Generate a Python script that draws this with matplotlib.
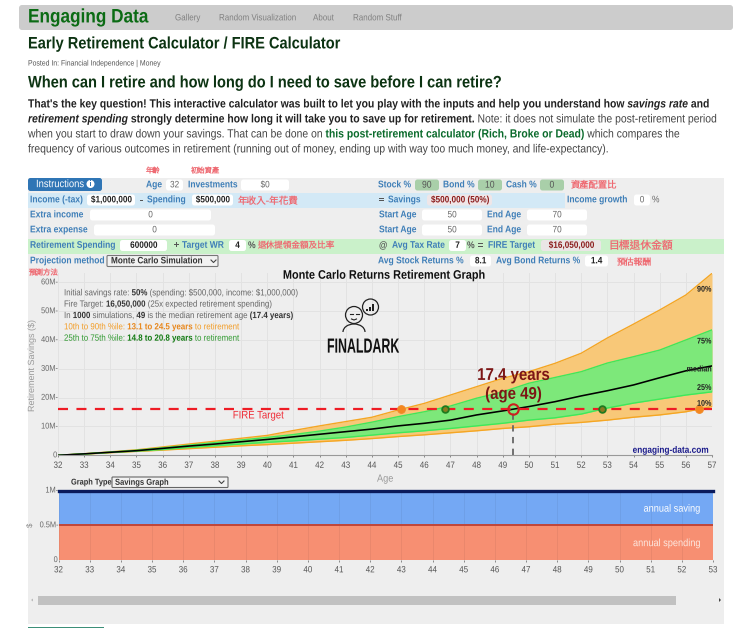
import matplotlib
matplotlib.use('Agg')
import matplotlib.pyplot as plt
from matplotlib.patches import FancyBboxPatch, Rectangle, Circle, Arc, Polygon
from matplotlib.patheffects import AbstractPathEffect
from matplotlib.transforms import Affine2D
from matplotlib.font_manager import FontProperties
from matplotlib.textpath import text_to_path

plt.rcParams['text.hinting'] = 'no_hinting'
plt.rcParams['text.hinting_factor'] = 1

# ---------------- data ----------------
ages = list(range(32, 58))
p10 = [0, 0.4, 0.9, 1.35, 1.8, 2.3, 2.8, 3.3, 3.7, 4.2, 4.7, 5.2, 5.8, 6.5, 7.1, 7.8, 8.5, 9.3, 9.9, 10.8, 11.4, 12.2, 13.2, 14.0, 15.1, 16.9]
p25 = [0, 0.45, 1.0, 1.45, 2.0, 2.7, 3.3, 3.9, 4.5, 5.0, 5.6, 6.2, 7.0, 7.8, 8.5, 9.3, 10.2, 11.1, 12.2, 13.0, 14.3, 16.4, 18.1, 19.5, 20.9, 22.0]
median = [0, 0.5, 1.05, 1.6, 2.4, 3.2, 3.9, 4.7, 5.5, 6.4, 7.3, 8.2, 9.1, 10.2, 11.1, 12.2, 14.0, 15.4, 16.9, 18.6, 20.6, 22.4, 24.4, 26.9, 29.3, 31.0]
p75 = [0, 0.5, 1.1, 1.75, 2.6, 3.5, 4.4, 5.3, 6.2, 7.2, 8.4, 9.8, 11.5, 13.4, 15.1, 17.1, 19.8, 22.0, 25.0, 27.0, 29.0, 32.0, 34.2, 36.5, 40.0, 43.5]
p90 = [0, 0.55, 1.2, 1.9, 2.9, 3.9, 4.9, 5.9, 6.9, 8.6, 10.2, 11.7, 13.2, 15.7, 18.0, 20.9, 23.8, 26.7, 29.0, 31.9, 35.4, 40.7, 45.5, 50.4, 55.6, 63.1]
fire_target = 16.05
reach_orange = [45.1, 56.5]
reach_green = [46.8, 52.8]
reach_median = 49.4
ytick_vals = [0, 10, 20, 30, 40, 50, 60]
ytick_text = ['0', '10M', '20M', '30M', '40M', '50M', '60M']
pct_labels = ['90%', '75%', 'median', '25%', '10%']
pct_label_vals = [57.5, 39.5, 29.8, 23.4, 17.9]

ages2 = list(range(32, 54))
spending = [0.5] * 22
income = [1.0] * 22
ytick2_vals = [0, 0.5, 1]
ytick2_text = ['0', '0.5M', '1M']

# ---------------- page ----------------
W, H = 740, 628
LAT = ['Liberation Sans', 'Noto Sans CJK TC', 'DejaVu Sans']
CJK = ['Noto Sans CJK TC', 'Liberation Sans']
BLUE = '#3f7fb8'
RED = '#ee6a72'
DRED = '#8b1a1a'
SY = 1.136

fig = plt.figure(figsize=(W / 100, H / 100), dpi=100, facecolor='white')


def full(z):
    a = fig.add_axes([0, 0, 1, 1], zorder=z)
    a.set_xlim(0, W)
    a.set_ylim(H, 0)
    a.axis('off')
    a.patch.set_alpha(0)
    return a


bg = full(0)
fg = full(5)


class Stretch(AbstractPathEffect):
    def __init__(self, sy, cy):
        super().__init__()
        self.sy, self.cy = sy, cy

    def draw_path(self, renderer, gc, tpath, affine, rgbFace=None):
        a = affine + Affine2D().translate(0, -self.cy).scale(1, self.sy).translate(0, self.cy)
        renderer.draw_path(gc, tpath, a, rgbFace)


def box(x0, x1, y0, y1, fc='white', ec='none', r=2.5, ax=None, lw=0.8):
    (ax or bg).add_patch(FancyBboxPatch((x0 + r, y0 + r), x1 - x0 - 2 * r, y1 - y0 - 2 * r,
                                        boxstyle=f'round,pad={r},rounding_size={r}', fc=fc, ec=ec, lw=lw))


def px(size):
    return size / 1.389


def T(x, y, s, size=8.5, color=BLUE, weight='bold', ha='left', family=LAT, style='normal', stretch=None, **kw):
    rotated = 'rotation' in kw
    sy = 1.0 if (family is CJK or rotated) else (stretch or SY)
    t = fg.text(x, y, s, fontsize=px(size), color=color, fontweight=weight, ha=ha, va='center',
                family=family, fontstyle=style, parse_math=False, **kw)
    if sy != 1.0:
        t.set_path_effects([Stretch(sy, H - y)])
    return t


def width(s, size, weight, style, family):
    fp = FontProperties(family=family, size=px(size), weight=weight, style=style)
    a = text_to_path.get_text_width_height_descent('|' + s + '|', fp, False)[0]
    b = text_to_path.get_text_width_height_descent('||', fp, False)[0]
    return (a - b) * 100 / 72


def run(x, y, segs, size, family=LAT):
    for s, color, weight, style in segs:
        T(x, y, s, size, color, weight, style=style)
        x += width(s, size, weight, style, family)


# nav
box(19, 733, 5, 30, fc='#cccccc', r=3)
T(28, 17.5, 'Engaging Data', 17.2, '#0b6b14')
for x, s in [(175, 'Gallery'), (219, 'Random Visualization'), (313, 'About'), (353, 'Random Stuff')]:
    T(x, 18, s, 8.0, '#808080', 'normal')
T(28, 44, 'Early Retirement Calculator / FIRE Calculator', 14.6, '#0c3312')
T(28, 63.5, 'Posted In: Financial Independence | Money', 6.9, '#555555', 'normal')
T(28, 83, 'When can I retire and how long do I need to save before I can retire?', 14.6, '#0c3312')

DK = '#222222'
GR = '#444444'
G2 = '#0b6b2c'
PS = 10.4
run(28, 104.5, [("That's the key question! This interactive calculator was built to let you play with the inputs and help you understand how ", DK, 'bold', 'normal'),
                ('savings rate', DK, 'bold', 'italic'), (' and', DK, 'bold', 'normal')], PS)
run(28, 119.5, [('retirement spending', DK, 'bold', 'italic'),
                (' strongly determine how long it will take you to save up for retirement.', DK, 'bold', 'normal'),
                (' Note: it does not simulate the post-retirement period', GR, 'normal', 'normal')], PS)
run(28, 134.5, [('when you start to draw down your savings. That can be done on ', GR, 'normal', 'normal'),
                ('this post-retirement calculator (Rich, Broke or Dead)', G2, 'bold', 'normal'),
                (' which compares the', GR, 'normal', 'normal')], PS)
run(28, 149.5, [('frequency of various outcomes in retirement (running out of money, ending up with way too much money, and life-expectancy).', GR, 'normal', 'normal')], PS)

# panel and rows
bg.add_patch(Rectangle((28, 177.5), 696, 446, fc='#eeeeee', ec='none'))
bg.add_patch(Rectangle((28, 193), 537, 14.5, fc='#d3e9f6', ec='none'))
bg.add_patch(Rectangle((28, 238.5), 696, 15.5, fc='#caf1ca', ec='none'))
box(28, 102, 178, 191, fc='#2f75b5', r=2.5)
T(36, 184.5, 'Instructions', 9.4, 'white', 'normal')
bg.add_patch(Circle((90.5, 184), 4, fc='white', ec='none'))
T(90.5, 184, 'i', 7.5, '#2f75b5', 'bold', ha='center')

inputs = [(166, 183, 185, '32'), (241, 289, 185, '$0'), (87, 135, 200, '$1,000,000'), (192, 233, 200, '$500,000'),
          (634, 650, 200, '0'), (90, 211, 215, '0'), (94, 215, 230, '0'), (422, 482, 215, '50'), (527, 587, 215, '70'),
          (422, 482, 230, '50'), (527, 587, 230, '70'), (120, 167, 245.5, '600000'), (229, 246, 245.5, '4'),
          (449, 466, 245.5, '7'), (470, 491, 261, '8.1'), (585, 608, 261, '1.4')]
for x0, x1, y, s in inputs:
    box(x0, x1, y - 5.5, y + 5.5)
    dark = s in ('$1,000,000', '$500,000', '600000', '4', '7', '8.1', '1.4')
    T((x0 + x1) / 2, y, s, 8.2, '#222222' if dark else '#666666', 'bold' if dark else 'normal', ha='center')
for x0, x1, s in [(415, 439, '90'), (478, 502, '10'), (540, 564, '0')]:
    box(x0, x1, 179.5, 190.5, fc='#a9cfa9')
    T((x0 + x1) / 2, 185, s, 8.6, '#555555', 'normal', ha='center')
box(427, 492, 194.5, 205.5, fc='#efe6e8')
T(459.5, 200, '$500,000 (50%)', 8.2, DRED, ha='center')
box(541, 601, 240, 251, fc='#eae6e6')
T(571, 245.5, '$16,050,000', 8.2, DRED, ha='center')

labels = [(146, 185, 'Age'), (188, 185, 'Investments'), (378, 185, 'Stock %'), (443, 185, 'Bond %'), (506, 185, 'Cash %'),
          (30, 200, 'Income (-tax)'), (147, 200, 'Spending'), (388, 200, 'Savings'), (567, 200, 'Income growth'),
          (30, 215, 'Extra income'), (379, 215, 'Start Age'), (487, 215, 'End Age'),
          (30, 230, 'Extra expense'), (379, 230, 'Start Age'), (487, 230, 'End Age'),
          (30, 245.5, 'Retirement Spending'), (182, 245.5, 'Target WR'), (392, 245.5, 'Avg Tax Rate'), (488, 245.5, 'FIRE Target'),
          (30, 261, 'Projection method'), (378, 261, 'Avg Stock Returns %'), (496, 261, 'Avg Bond Returns %')]
for x, y, s in labels:
    T(x, y, s)
for x, y, s in [(140, 200, '-'), (379, 200, '='), (174, 245, '+'), (248, 245.5, '%'), (379, 245.5, '@'), (467, 245.5, '%'), (478, 245.5, '=')]:
    T(x, y, s, 8.6, '#555555')
T(652, 200, '%', 8.4, '#666666', 'normal')

annots = [(146, 171, '年齡', 7.3), (190, 171, '初始資產', 7.3), (238, 201.5, '年收入-年花費', 9.6), (571, 185, '資產配置比', 9.3),
          (257, 245.5, '退休提領金額及比率', 8.6), (608, 245.5, '目標退休金額', 10.8), (617, 263, '預估報酬', 8.8), (29, 273.5, '預測方法', 7.5)]
for x, y, s, sz in annots:
    T(x, y, s, sz, RED, 'normal', family=CJK)

box(107, 218, 255.5, 266.5, fc='#f2f2f2', ec='#777777', r=1)
T(111, 261, 'Monte Carlo Simulation', 8.2, '#333333')
fg.plot([211, 213.5, 216], [260, 262.5, 260], color='#444444', lw=0.8)

box(112, 228, 477, 487.5, fc='#f2f2f2', ec='#666666', r=0.8)
T(71, 482.5, 'Graph Type', 7.4, '#333333')
T(115, 482.5, 'Savings Graph', 7.6, '#333333')
fg.plot([219, 221.5, 224], [481, 483.5, 481], color='#444444', lw=0.8)

# ---------------- main chart ----------------
ax_l, ax_r, ax_b, ax_t = 58, 712, 455.3, 273
main = fig.add_axes([ax_l / W, 1 - ax_b / H, (ax_r - ax_l) / W, (ax_b - ax_t) / H], zorder=2)
main.patch.set_alpha(0)
main.set_xlim(32, 57)
main.set_ylim(0, (ax_b - ax_t) / 2.883)
main.grid(True, color='#e2e2e2', lw=0.7)
main.set_axisbelow(True)
main.fill_between(ages, p10, p90, color='#f8c878', lw=0)
main.fill_between(ages, p25, p75, color='#7de87a', lw=0)
main.plot(ages, p10, color='#f5a623', lw=1)
main.plot(ages, p90, color='#f5a623', lw=1)
main.plot(ages, p25, color='#3fe85a', lw=1)
main.plot(ages, p75, color='#3fe85a', lw=1)
main.plot(ages, median, color='black', lw=1.15)
main.plot([32, 57], [fire_target, fire_target], color='#ee1c25', lw=1.6, dashes=(4.5, 3.8))
main.plot([reach_median, reach_median], [0, fire_target], color='#666666', lw=1.3, dashes=(3.5, 3))
main.plot(reach_orange, [fire_target] * 2, 'o', ms=5.5, mfc='#f5871f', mec='#f08a2a', mew=0.8, clip_on=False)
main.plot(reach_green, [fire_target] * 2, 'o', ms=4.8, mfc='#8a7a20', mec='#1f7a1f', mew=1.3)
main.plot([reach_median], [fire_target], 'o', ms=7.5, mfc='none', mec='#cc1f1f', mew=1.5)
main.set_xticks(ages)
main.set_yticks(ytick_vals)
main.set_yticklabels([])
main.set_xticklabels([])
main.tick_params(axis='x', length=1.5, color='#888888', width=0.7)
main.tick_params(axis='y', length=0)
for s in ['top', 'right', 'left']:
    main.spines[s].set_visible(False)
main.spines['bottom'].set_color('#999999')
main.spines['bottom'].set_linewidth(0.8)
for v, s in zip(ytick_vals, ytick_text):
    y = ax_b - v * 2.883
    T(57, y, s + ('-' if v else ''), 7.4, '#666666', 'normal', ha='right')
for a in ages:
    x = ax_l + (a - 32) * (ax_r - ax_l) / 25
    T(x, 465.5, str(a), 8, '#555555', 'normal', ha='center')
for s, v in zip(pct_labels, pct_label_vals):
    y = ax_b - v * 2.883
    T(711, y, s, 7.2, '#222222', 'bold', ha='right')

T(385, 275.5, 'Monte Carlo Returns Retirement Graph', 10.9, '#111111', ha='center')
T(33, 365, 'Retirement Savings ($)', 9.1, '#999999', 'normal', ha='center', rotation=90, rotation_mode='anchor')
T(385, 479, 'Age', 9.2, '#999999', 'normal', ha='center')
T(260, 415.5, 'FIRE Target', 9.6, '#ee2a35', 'normal', ha='center')
T(513.5, 375.5, '17.4 years', 15, '#7c1515', ha='center')
T(513.5, 394.5, '(age 49)', 15, '#7c1515', ha='center')
T(706, 450.5, 'engaging-data.com', 8.3, '#1c1c8c', ha='right')

G = '#666666'
CS = 7.9
run(64, 293, [('Initial savings rate: ', G, 'normal', 'normal'), ('50%', '#333333', 'bold', 'normal'),
              (' (spending: $500,000, income: $1,000,000)', G, 'normal', 'normal')], CS)
run(64, 304.3, [('Fire Target: ', G, 'normal', 'normal'), ('16,050,000', '#333333', 'bold', 'normal'),
                (' (25x expected retirement spending)', G, 'normal', 'normal')], CS)
run(64, 315.7, [('In ', G, 'normal', 'normal'), ('1000', '#333333', 'bold', 'normal'), (' simulations, ', G, 'normal', 'normal'),
                ('49', '#333333', 'bold', 'normal'), (' is the median retirement age ', G, 'normal', 'normal'),
                ('(17.4 years)', '#333333', 'bold', 'normal')], CS)
O = '#f39c24'
run(64, 327, [('10th to 90th %ile: ', O, 'normal', 'normal'), ('13.1 to 24.5 years', '#e8861a', 'bold', 'normal'),
              (' to retirement', O, 'normal', 'normal')], CS)
GN = '#2f9a2f'
run(64, 338.3, [('25th to 75th %ile: ', GN, 'normal', 'normal'), ('14.8 to 20.8 years', '#117a11', 'bold', 'normal'),
                (' to retirement', GN, 'normal', 'normal')], CS)

# logo
fg.add_patch(Circle((354, 315), 8.5, fc='none', ec='#222222', lw=0.9))
fg.add_patch(Circle((370.5, 307), 8, fc='none', ec='#222222', lw=0.9))
fg.add_patch(Arc((354, 332), 22, 16, theta1=180, theta2=360, ec='#222222', lw=0.9))
fg.plot([350, 352.5], [314, 314], color='#222222', lw=0.8)
fg.plot([356, 358.5], [314, 314], color='#222222', lw=0.8)
fg.plot([351.5, 354, 356.5], [319, 320, 319], color='#222222', lw=0.8)
for bx, h in zip([366, 369, 372], [2.5, 4.5, 7]):
    fg.add_patch(Rectangle((bx, 311 - h), 2, h, fc='#222222', ec='none'))
T(362, 347.5, 'FINALDARK', 12.4, '#111111', ha='center', stretch=1.65)

# ---------------- bottom chart ----------------
l2, r2, b2, t2 = 58.5, 713, 560, 490.5
sub = fig.add_axes([l2 / W, 1 - b2 / H, (r2 - l2) / W, (b2 - t2) / H], zorder=2)
sub.patch.set_alpha(0)
sub.set_xlim(32, 53)
sub.set_ylim(0, 1)
sub.fill_between(ages2, 0, spending, color='#f78f72', lw=0)
sub.fill_between(ages2, spending, income, color='#74a8f4', lw=0)
sub.plot(ages2, spending, color='#c0463a', lw=1.4)
sub.plot(ages2, income, color='#0a1a5c', lw=2.4, clip_on=False)
sub.set_xticks(ages2)
sub.set_yticks(ytick2_vals)
sub.set_xticklabels([])
sub.set_yticklabels([])
sub.grid(True, axis='x', color='#000000', alpha=0.05, lw=0.7)
sub.tick_params(axis='x', length=1.5, color='#888888', width=0.7)
sub.tick_params(axis='y', length=0)
for s in sub.spines.values():
    s.set_visible(False)
for v, s in zip(ytick2_vals, ytick2_text):
    T(57.5, b2 - v * (b2 - t2), s + ('-' if v else ''), 7.4, '#666666', 'normal', ha='right')
for a in ages2:
    T(l2 + (a - 32) * (r2 - l2) / 21, 570, str(a), 8, '#555555', 'normal', ha='center')
T(31, 525, '$', 8, '#888888', 'normal', ha='center', rotation=90)
T(699, 509, 'annual saving', 9.2, 'white', 'normal', ha='right')
T(699, 543.5, 'annual spending', 9.2, '#fde8e0', 'normal', ha='right')

# scrollbar and bottom stub
bg.add_patch(Rectangle((38, 596), 638, 8.5, fc='#c1c1c1', ec='none'))
bg.add_patch(Polygon([[31, 600], [33, 598.5], [33, 601.5]], fc='#bbbbbb', ec='none'))
bg.add_patch(Polygon([[721, 600], [719, 598], [719, 602]], fc='#444444', ec='none'))
bg.add_patch(Rectangle((28, 626.8), 76, 1.2, fc='#3c8f78', ec='none'))

fig.savefig('out.png', dpi=100, facecolor='white')
